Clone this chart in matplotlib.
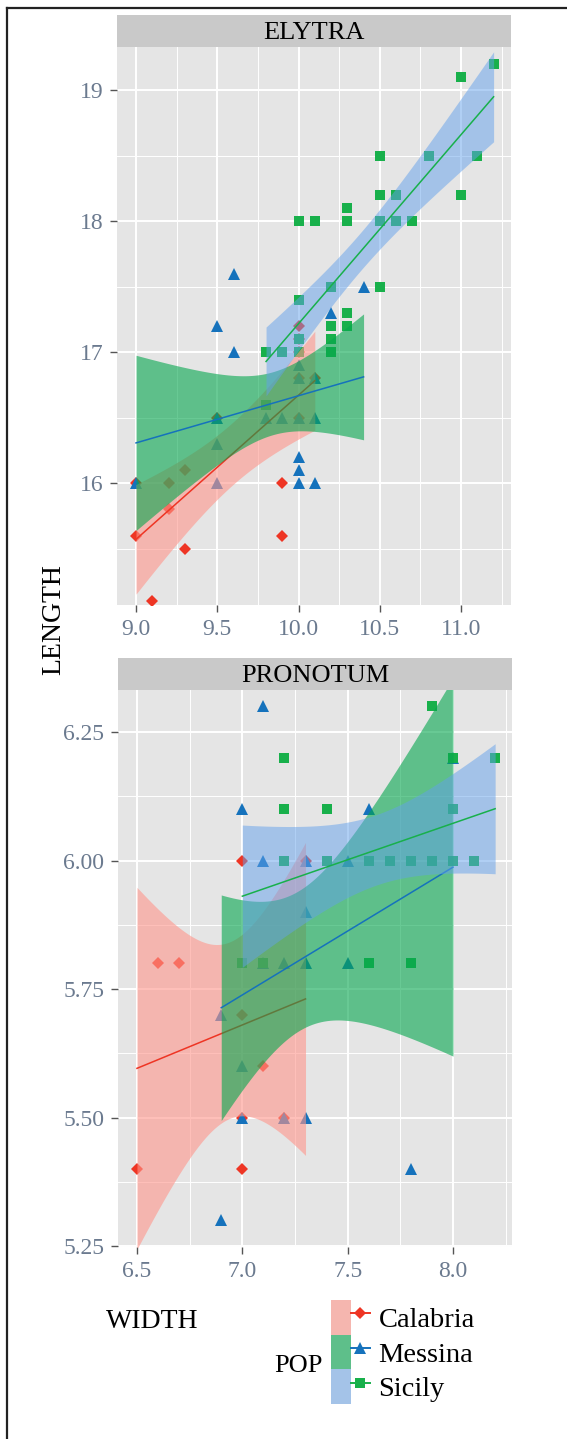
import math
import numpy as np
import matplotlib
matplotlib.use("Agg")
import matplotlib.pyplot as plt
import matplotlib.colors as mcolors
from matplotlib.lines import Line2D
from matplotlib.patches import Patch
from matplotlib.legend_handler import HandlerTuple
from matplotlib.ticker import FormatStrFormatter, MultipleLocator

plt.rcParams['font.family'] = ['Liberation Serif', 'DejaVu Serif']

pops = ["Calabria", "Messina", "Sicily"]

# ELYTRA (width, length)
ely_cal_w = [9.0, 9.0, 9.1, 9.2, 9.2, 9.3, 9.3, 9.5, 9.9, 9.9, 10.0, 10.0, 10.0, 10.0, 10.0, 10.1]
ely_cal_l = [16.0, 15.6, 15.1, 16.0, 15.8, 16.1, 15.5, 16.5, 16.0, 15.6, 17.2, 17.1, 17.0, 16.8, 16.5, 16.8]
ely_mes_w = [9.0, 9.5, 9.5, 9.5, 9.5, 9.6, 9.6, 9.8, 9.9, 10.0, 10.0, 10.0, 10.0, 10.0, 10.0,
             10.1, 10.1, 10.1, 10.2, 10.4]
ely_mes_l = [16.0, 17.2, 16.5, 16.3, 16.0, 17.6, 17.0, 16.5, 16.5, 16.9, 16.8, 16.5, 16.2, 16.1, 16.0,
             16.8, 16.5, 16.0, 17.3, 17.5]
ely_sic_w = [9.8, 9.8, 9.9, 10.0, 10.0, 10.0, 10.0, 10.1, 10.2, 10.2, 10.2, 10.2, 10.3, 10.3, 10.3, 10.3,
             10.5, 10.5, 10.5, 10.5, 10.6, 10.6, 10.7, 10.8, 11.0, 11.0, 11.1, 11.2]
ely_sic_l = [17.0, 16.6, 17.0, 18.0, 17.4, 17.1, 17.0, 18.0, 17.5, 17.2, 17.1, 17.0, 18.1, 18.0, 17.3, 17.2,
             18.5, 18.2, 18.0, 17.5, 18.2, 18.0, 18.0, 18.5, 19.1, 18.2, 18.5, 19.2]

# PRONOTUM (width, length)
pro_cal_w = [6.5, 6.6, 6.7, 7.0, 7.0, 7.0, 7.0, 7.1, 7.2, 7.3]
pro_cal_l = [5.4, 5.8, 5.8, 6.0, 5.7, 5.5, 5.4, 5.6, 5.5, 6.0]
pro_mes_w = [6.9, 6.9, 7.0, 7.0, 7.0, 7.1, 7.1, 7.1, 7.2, 7.2, 7.3, 7.3, 7.3, 7.3, 7.5, 7.5, 7.6, 7.8, 8.0]
pro_mes_l = [5.7, 5.3, 6.1, 5.6, 5.5, 6.3, 6.0, 5.8, 5.8, 5.5, 6.0, 5.9, 5.8, 5.5, 6.0, 5.8, 6.1, 5.4, 6.2]
pro_sic_w = [7.0, 7.1, 7.2, 7.2, 7.2, 7.4, 7.4, 7.6, 7.6, 7.7, 7.8, 7.8, 7.9, 7.9, 8.0, 8.0, 8.0, 8.1, 8.2]
pro_sic_l = [5.8, 5.8, 6.2, 6.1, 6.0, 6.1, 6.0, 6.0, 5.8, 6.0, 6.0, 5.8, 6.3, 6.0, 6.2, 6.1, 6.0, 6.0, 6.2]

# styles (note: fills are swapped between Messina and Sicily as in the original)
point_col = {"Calabria": "#EE3524", "Messina": "#1572BC", "Sicily": "#18B04B"}
line_col = {"Calabria": "#EE3524", "Messina": "#1572BC", "Sicily": "#18B04B"}
fill_col = {"Calabria": "#FF968B", "Messina": "#04A64D", "Sicily": "#63A1EB"}
fill_alpha = {"Calabria": 0.6, "Messina": 0.6, "Sicily": 0.5}
marker = {"Calabria": "D", "Messina": "^", "Sicily": "s"}
msize = {"Calabria": 6.4, "Messina": 8.0, "Sicily": 7.0}
PANEL_BG = "#E5E5E5"
TICK_COL = "#6B7A8F"


def t_quantile(dof, p=0.975):
    g = np.linspace(0, 12, 24001)
    c = math.gamma((dof + 1) / 2) / (math.sqrt(dof * math.pi) * math.gamma(dof / 2))
    pdf = c * (1 + g ** 2 / dof) ** (-(dof + 1) / 2)
    cdf = 0.5 + np.concatenate([[0], np.cumsum((pdf[1:] + pdf[:-1]) / 2 * np.diff(g))])
    return np.interp(p, cdf, g)


def lm_band(x, y, n=80):
    # same as geom_smooth(method = "lm")
    x = np.asarray(x, float)
    y = np.asarray(y, float)
    b, a = np.polyfit(x, y, 1)
    xs = np.linspace(x.min(), x.max(), n)
    fit = a + b * xs
    dof = len(x) - 2
    s = np.sqrt(np.sum((y - (a + b * x)) ** 2) / dof)
    se = s * np.sqrt(1 / len(x) + (xs - x.mean()) ** 2 / np.sum((x - x.mean()) ** 2))
    t = t_quantile(dof)
    return xs, fit, fit - t * se, fit + t * se


def draw_panel(ax, data, xlim, ylim, xmaj, ymaj, xfmt, yfmt):
    ax.set_facecolor(PANEL_BG)
    ax.set_axisbelow(True)
    for pop in pops:
        w, l = data[pop]
        ax.plot(w, l, linestyle="none", marker=marker[pop], ms=msize[pop],
                color=point_col[pop], mew=0, zorder=2)
    for pop in pops:
        w, l = data[pop]
        xs, fit, lo, hi = lm_band(w, l)
        ax.fill_between(xs, lo, hi, color=fill_col[pop], alpha=fill_alpha[pop], lw=0, zorder=3)
        ax.plot(xs, fit, color=line_col[pop], lw=1.1, zorder=3)
    ax.set_xlim(*xlim)
    ax.set_ylim(*ylim)
    ax.xaxis.set_major_locator(MultipleLocator(xmaj))
    ax.xaxis.set_minor_locator(MultipleLocator(xmaj / 2))
    ax.yaxis.set_major_locator(MultipleLocator(ymaj))
    ax.yaxis.set_minor_locator(MultipleLocator(ymaj / 2))
    ax.xaxis.set_major_formatter(FormatStrFormatter(xfmt))
    ax.yaxis.set_major_formatter(FormatStrFormatter(yfmt))
    ax.grid(which="major", color="white", lw=1.4)
    ax.grid(which="minor", color="white", lw=0.7)
    for sp in ax.spines.values():
        sp.set_visible(False)
    ax.tick_params(which="major", direction="out", length=5, width=1, color="#555555",
                   labelcolor=TICK_COL, labelsize=17, pad=5)
    ax.tick_params(which="minor", length=0)


def strip(fig, rect, label):
    sax = fig.add_axes(rect)
    sax.set_facecolor("#C9C9C9")
    sax.set_xticks([])
    sax.set_yticks([])
    for sp in sax.spines.values():
        sp.set_visible(False)
    sax.text(0.5, 0.45, label, ha="center", va="center", fontsize=19, transform=sax.transAxes)


W, H = 567, 1439
fig = plt.figure(figsize=(W / 100, H / 100), dpi=100)

ax1 = fig.add_axes([117 / W, 1 - 605 / H, 394 / W, 558 / H])
draw_panel(ax1, {"Calabria": (ely_cal_w, ely_cal_l), "Messina": (ely_mes_w, ely_mes_l),
                 "Sicily": (ely_sic_w, ely_sic_l)},
           (8.883, 11.307), (15.07, 19.33), 0.5, 1.0, "%.1f", "%g")
strip(fig, [117 / W, 1 - 47 / H, 394 / W, 32 / H], "ELYTRA")

ax2 = fig.add_axes([118 / W, 1 - 1247 / H, 394 / W, 557 / H])
draw_panel(ax2, {"Calabria": (pro_cal_w, pro_cal_l), "Messina": (pro_mes_w, pro_mes_l),
                 "Sicily": (pro_sic_w, pro_sic_l)},
           (6.41, 8.28), (5.248, 6.332), 0.5, 0.25, "%.1f", "%.2f")
strip(fig, [118 / W, 1 - 690 / H, 394 / W, 32 / H], "PRONOTUM")

fig.text(54 / W, 1 - 620 / H, "LENGTH", rotation=90, ha="center", va="center", fontsize=20)
fig.text(152 / W, 1 - 1321 / H, "WIDTH", ha="center", va="center", fontsize=20)
fig.text(323 / W, 1 - 1366 / H, "POP", ha="right", va="center", fontsize=19)

# legend keys: band colour as seen on the grey panel
bg = np.array(mcolors.to_rgb(PANEL_BG))
handles = []
for pop in pops:
    fc = fill_alpha[pop] * np.array(mcolors.to_rgb(fill_col[pop])) + (1 - fill_alpha[pop]) * bg
    handles.append((Patch(facecolor=fc, edgecolor="none"),
                    Line2D([], [], color=line_col[pop], lw=1.4, marker=marker[pop],
                           ms=msize[pop], mew=0, markerfacecolor=point_col[pop])))
fig.legend(handles, pops, loc="upper left", bbox_to_anchor=(331 / W, 1 - 1300 / H),
           frameon=False, fontsize=20.5, handlelength=1.37, handleheight=1.5,
           handletextpad=0.3, labelspacing=0, borderpad=0, borderaxespad=0,
           handler_map={tuple: HandlerTuple(ndivide=None, pad=0)})

# frame lines of the original figure
fig.add_artist(Line2D([7 / W, 7 / W], [0, 1 - 7.5 / H], transform=fig.transFigure, color="#222222", lw=1.6))
fig.add_artist(Line2D([7 / W, 1], [1 - 7.5 / H, 1 - 7.5 / H], transform=fig.transFigure, color="#222222", lw=1.6))

fig.savefig("out.png", dpi=100)
